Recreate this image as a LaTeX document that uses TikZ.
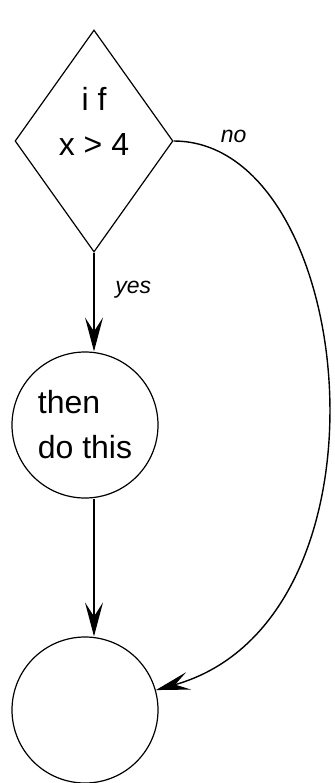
\documentclass[tikz,border=0pt]{standalone}
\usepackage{fontspec}
\setmainfont{Liberation Sans}
\usetikzlibrary{shapes.geometric,arrows.meta}

\begin{document}
\begin{tikzpicture}[x=1pt,y=1pt]
        \tikzstyle{every node}=[font=\fontsize{16}{22.5}\selectfont]
        \tikzstyle{decision}=[draw, diamond, line width=0.6pt, inner sep=0pt, minimum width=79pt, minimum height=111pt]
        \tikzstyle{state}=[draw, circle, line width=0.6pt, inner sep=0pt, minimum size=73pt, align=left]
        \tikzstyle{flow}=[->, >={Stealth[length=17pt,width=9pt,inset=7pt]}, line width=0.7pt]
        \tikzstyle{branch}=[font=\fontsize{11.5}{14}\selectfont\itshape]
        \useasboundingbox (0,0) rectangle (167,-391.5);
        \node [decision, label={[align=center, yshift=10pt]center:{i f\\x > 4}}] (cond) at (47,-70.5) {};
        \node [state] (act) at (42.5,-212.5) {then\\do this};
        \node [state] (done) at (42.5,-355) {};
        \draw [flow] (cond.south) -- node [branch, pos=0.38, right=7pt] (yes) {yes} (cond.south |- act.north);
        \draw [flow] (act.south -| cond.south) -- (done.north -| cond.south);
        \draw [flow] (cond.east) .. controls +(92,0) and +(160,45) .. node [branch, pos=0.12, above=5pt] (no) {no} (done);
\end{tikzpicture}
\end{document}
